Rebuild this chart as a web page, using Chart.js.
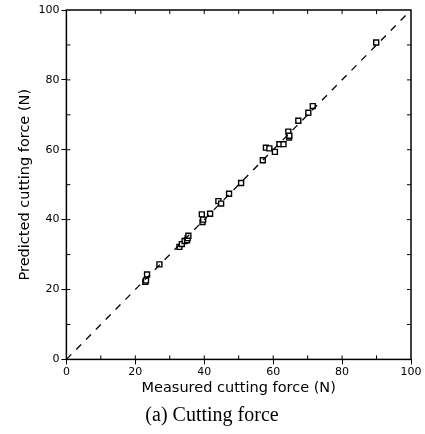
<!DOCTYPE html>
<html>
<head>
<meta charset="utf-8">
<script src="https://cdn.jsdelivr.net/npm/chart.js@4/dist/chart.umd.min.js"></script>
<style>
  html, body { margin: 0; padding: 0; background: #fff; }
  #wrap { width: 425px; height: 434px; position: relative; }
</style>
</head>
<body>
<div id="wrap"><canvas id="chart" width="425" height="434"></canvas></div>
<script>
'use strict';

// measured vs predicted cutting force (N)
let measured  = [22.9, 23.1, 23.4, 27.0, 32.8, 33.5, 34.3, 35.0, 35.2, 35.4,
                 39.3, 39.5, 39.7, 41.7, 44.1, 44.9, 47.2, 50.7, 57.0, 57.9,
                 58.9, 60.5, 61.8, 63.0, 64.4, 64.6, 64.7, 67.3, 70.2, 71.5, 89.9];
let predicted = [22.2, 22.6, 24.3, 27.2, 32.2, 33.0, 33.9, 34.1, 34.7, 35.4,
                 41.5, 39.3, 40.0, 41.7, 45.3, 44.6, 47.4, 50.5, 57.0, 60.6,
                 60.4, 59.4, 61.6, 61.6, 65.2, 63.5, 64.0, 68.3, 70.6, 72.5, 90.7];
let lineX = [0, 100];
let lineY = [0, 100];
let axisMin = 0;
let axisMax = 100;

let points = [];
for (let i = 0; i < measured.length; i++) {
  points.push({ x: measured[i], y: predicted[i] });
}
let diag = [];
for (let i = 0; i < lineX.length; i++) {
  diag.push({ x: lineX[i], y: lineY[i] });
}

// frame round the plot plus small inward minor ticks, like the original
const framePlugin = {
  id: 'frame',
  afterDatasetsDraw(chart) {
    let ctx = chart.ctx;
    let a = chart.chartArea;
    let xs = chart.scales.x;
    let ys = chart.scales.y;
    ctx.save();
    ctx.strokeStyle = '#000';
    ctx.lineWidth = 1.5;
    ctx.strokeRect(a.left, a.top, a.right - a.left, a.bottom - a.top);
    ctx.lineWidth = 1;
    for (let v = 10; v < 100; v += 10) {
      let px = xs.getPixelForValue(v);
      let py = ys.getPixelForValue(v);
      ctx.beginPath();
      ctx.moveTo(px, a.bottom); ctx.lineTo(px, a.bottom - 4);
      ctx.moveTo(px, a.top); ctx.lineTo(px, a.top + 4);
      ctx.moveTo(a.left, py); ctx.lineTo(a.left + 4, py);
      ctx.moveTo(a.right, py); ctx.lineTo(a.right - 4, py);
      ctx.stroke();
    }
    ctx.restore();
  }
};

const config = {
  type: 'scatter',
  data: {
    datasets: [
      {
        type: 'line',
        label: 'y = x',
        data: diag,
        borderColor: '#000',
        borderWidth: 1.3,
        borderDash: [7, 7],
        pointRadius: 0,
        fill: false
      },
      {
        label: 'Predicted',
        data: points,
        pointStyle: 'rect',
        pointRadius: 3.5,
        borderWidth: 1.4,
        borderColor: '#000',
        backgroundColor: '#fff'
      }
    ]
  },
  options: {
    responsive: false,
    animation: false,
    layout: { padding: { top: 10, right: 14, left: 13, bottom: 2 } },
    plugins: {
      legend: { display: false },
      tooltip: { enabled: false },
      title: {
        display: true,
        position: 'bottom',
        text: '(a) Cutting force',
        color: '#000',
        font: { family: 'Liberation Serif', size: 20, weight: 'normal' },
        padding: { top: 7, bottom: 4 }
      }
    },
    scales: {
      x: {
        type: 'linear',
        min: axisMin,
        max: axisMax,
        border: { display: false },
        grid: { drawOnChartArea: false, tickLength: 5, color: '#000', lineWidth: 1 },
        ticks: {
          stepSize: 20,
          maxRotation: 0,
          padding: 1,
          color: '#000',
          font: { family: 'DejaVu Sans', size: 11 }
        },
        title: {
          display: true,
          text: 'Measured cutting force (N)',
          color: '#000',
          padding: { top: 0, bottom: 0 },
          font: { family: 'DejaVu Sans', size: 14.5 }
        }
      },
      y: {
        type: 'linear',
        min: axisMin,
        max: axisMax,
        border: { display: false },
        grid: { drawOnChartArea: false, tickLength: 5, color: '#000', lineWidth: 1 },
        ticks: {
          stepSize: 20,
          padding: 2,
          color: '#000',
          font: { family: 'DejaVu Sans', size: 11 }
        },
        title: {
          display: true,
          text: 'Predicted cutting force (N)',
          color: '#000',
          padding: { top: 4, bottom: 2 },
          font: { family: 'DejaVu Sans', size: 14.5 }
        }
      }
    }
  },
  plugins: [framePlugin]
};

new Chart(document.getElementById('chart'), config);
</script>
</body>
</html>
